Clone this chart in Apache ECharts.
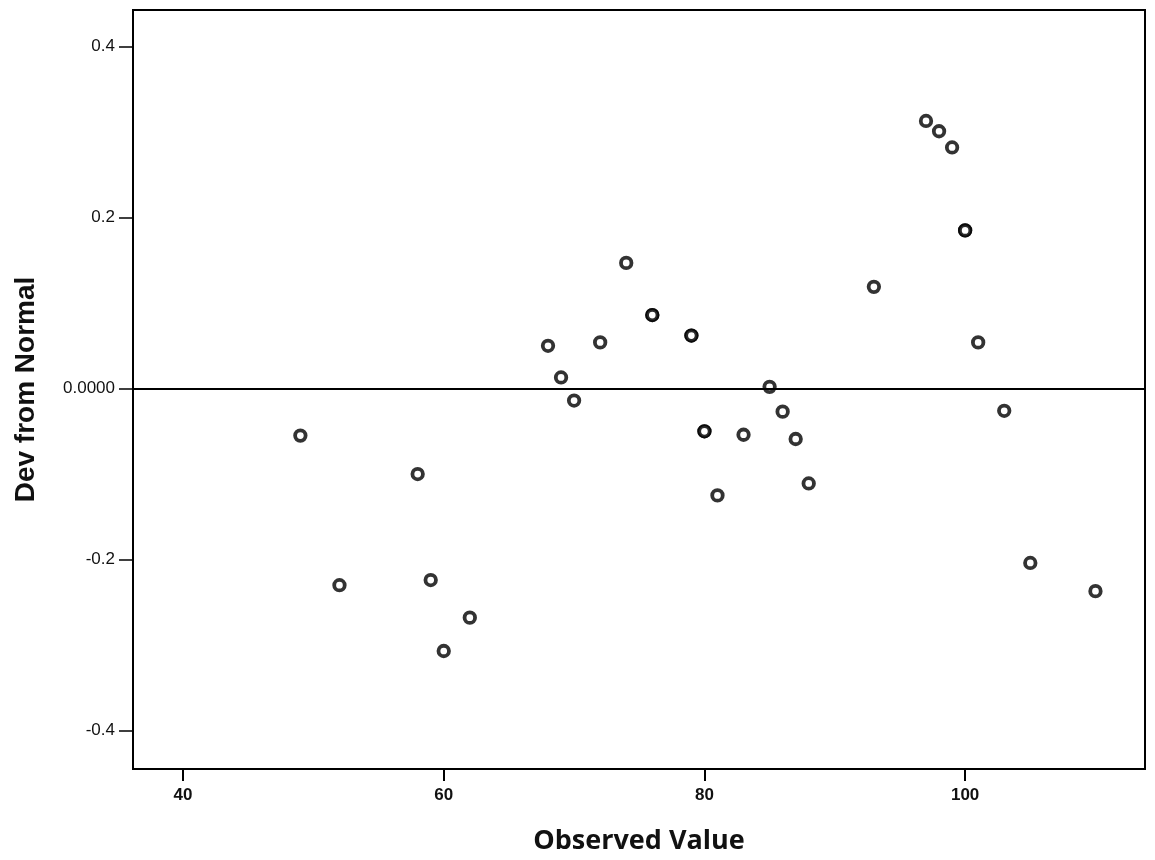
<!DOCTYPE html>
<html>
<head>
<meta charset="utf-8">
<script src="https://cdn.jsdelivr.net/npm/echarts@6/dist/echarts.min.js"></script>
<style>
html,body{margin:0;padding:0;background:#fff;}
#chart{width:1155px;height:860px;}
</style>
</head>
<body>
<div id="chart"></div>
<script>
const observed = [49, 52, 58, 59, 60, 62, 68, 69, 70, 72, 74, 76, 76, 79, 79, 80, 80, 81, 83, 85, 86, 87, 88, 93, 97, 98, 99, 100, 100, 101, 103, 105, 110];
const devFromNormal = [-0.055, -0.230, -0.100, -0.224, -0.307, -0.268, 0.050, 0.013, -0.014, 0.054, 0.147, 0.086, 0.086, 0.062, 0.062, -0.050, -0.050, -0.125, -0.054, 0.002, -0.027, -0.059, -0.111, 0.119, 0.313, 0.301, 0.282, 0.185, 0.185, 0.054, -0.026, -0.204, -0.237];
const xTicks = [40, 60, 80, 100];
const yTicks = [-0.4, -0.2, 0, 0.2, 0.4];
const xName = 'Observed Value';
const yName = 'Dev from Normal';

const points = observed.map((x, i) => [x, devFromNormal[i]]);

const chart = echarts.init(document.getElementById('chart'), null, {renderer: 'canvas'});
const tickFont = {fontFamily: 'Liberation Sans, Arial, sans-serif', fontSize: 17, fontWeight: 'bold', color: '#111'};
chart.setOption({
  animation: false,
  backgroundColor: '#ffffff',
  grid: {left: 133, right: 10, top: 10, bottom: 89, show: true, borderColor: '#000', borderWidth: 2, backgroundColor: 'transparent'},
  xAxis: {
    type: 'value', min: 36.16, max: 113.8,
    name: xName, nameLocation: 'middle', nameGap: 59,
    nameTextStyle: {fontFamily: 'Open Sans, Liberation Sans, sans-serif', fontWeight: 'bold', fontSize: 27, color: '#111'},
    axisLine: {show: true, onZero: false, lineStyle: {color: '#000', width: 2}},
    axisTick: {show: true, length: 12, customValues: xTicks, lineStyle: {color: '#000', width: 2}},
    axisLabel: {customValues: xTicks, margin: 18, ...tickFont},
    splitLine: {show: false}
  },
  yAxis: {
    type: 'value', min: -0.445, max: 0.4428,
    name: yName, nameLocation: 'middle', nameGap: 93, nameRotate: 90,
    nameTextStyle: {fontFamily: 'Liberation Sans, Arial, sans-serif', fontWeight: 'bold', fontSize: 28, color: '#111'},
    axisLine: {show: true, onZero: false, lineStyle: {color: '#000', width: 2}},
    axisTick: {show: true, length: 14, customValues: yTicks, lineStyle: {color: '#000', width: 1.5}},
    axisLabel: {customValues: yTicks, margin: 18, ...tickFont, fontWeight: 'normal',
      formatter: v => (Math.abs(v) < 1e-9 ? '0.0000' : String(Math.round(v * 10) / 10))},
    splitLine: {show: false}
  },
  series: [{
    type: 'scatter',
    data: points,
    symbol: 'circle',
    symbolSize: 10.5,
    itemStyle: {color: '#ffffff', borderColor: '#000', borderWidth: 3.8},
    markLine: {
      silent: true, symbol: ['none', 'none'], label: {show: false},
      lineStyle: {color: '#000', width: 2, type: 'solid'},
      data: [{yAxis: 0}]
    },
    z: 3
  }]
});
</script>
</body>
</html>
